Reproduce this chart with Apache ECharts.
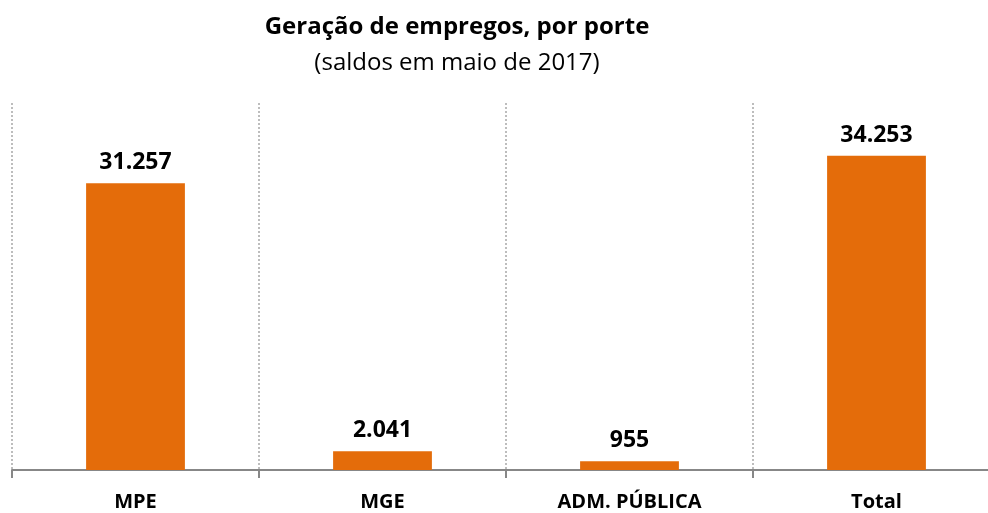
<!DOCTYPE html>
<html>
<head>
<meta charset="utf-8">
<script src="https://cdn.jsdelivr.net/npm/echarts@6/dist/echarts.min.js"></script>
<style>
  html, body { margin: 0; padding: 0; background: #fff; }
  #chart { width: 988px; height: 513px; }
</style>
</head>
<body>
<div id="chart"></div>
<script>
// saldos por porte, maio 2017
var categories = ['MPE', 'MGE', 'ADM. PÚBLICA', 'Total']
var saldos = [31257, 2041, 955, 34253]

function fmt(v) {
  return String(v).replace(/\B(?=(\d{3})+(?!\d))/g, '.')
}

var chart = echarts.init(document.getElementById('chart'))
chart.setOption({
  animation: false,
  title: {
    text: 'Geração de empregos, por porte',
    subtext: '(saldos em maio de 2017)',
    left: 452,
    textAlign: 'center',
    top: 10,
    itemGap: 12,
    textStyle: { fontFamily: 'Open Sans', fontWeight: 'bold', fontSize: 24, color: '#000' },
    subtextStyle: { fontFamily: 'Open Sans', fontSize: 24, color: '#000' }
  },
  // plot runs past the right edge, like the original
  grid: { left: 12, width: 988, top: 103, bottom: 43, outerBoundsMode: 'none' },
  xAxis: {
    type: 'category',
    data: categories,
    axisLine: { lineStyle: { color: '#878787', width: 2 } },
    axisTick: { show: true, length: 8, lineStyle: { color: '#878787', width: 2 } },
    splitLine: { show: true, lineStyle: { color: '#bdbdbd', type: 'dotted', width: 2 } },
    axisLabel: {
      margin: 22,
      fontFamily: 'Open Sans',
      fontWeight: 'bold',
      fontSize: 20,
      color: '#000'
    }
  },
  yAxis: {
    type: 'value',
    min: 0,
    max: 40000,
    show: false,
    splitLine: { show: false }
  },
  series: [{
    type: 'bar',
    data: saldos,
    barWidth: '40%',
    itemStyle: { color: '#E46C0A' },
    label: {
      show: true,
      position: 'top',
      distance: 9,
      formatter: function (p) { return fmt(p.value) },
      fontFamily: 'Open Sans',
      fontWeight: 'bold',
      fontSize: 23,
      color: '#000'
    }
  }]
})
</script>
</body>
</html>
